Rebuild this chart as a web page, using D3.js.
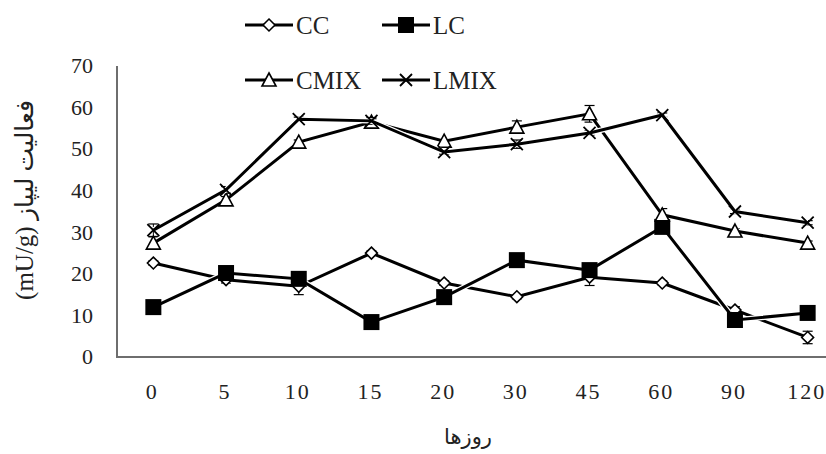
<!DOCTYPE html>
<html>
<head>
<meta charset="utf-8">
<script src="https://cdn.jsdelivr.net/npm/d3@7"></script>
<style>
  body { margin: 0; background: #fff; }
  svg { display: block; }
</style>
</head>
<body>
<div id="vis"></div>
<script>
const days = ["0", "5", "10", "15", "20", "30", "45", "60", "90", "120"];
const yTicks = [0, 10, 20, 30, 40, 50, 60, 70];

const cc   = [22.6, 18.6, 17.0, 25.0, 17.8, 14.5, 19.2, 17.8, 11.3, 4.7];
const lc   = [12.0, 20.2, 18.8, 8.4, 14.4, 23.3, 20.9, 31.3, 8.9, 10.6];
const cmix = [27.4, 37.8, 51.7, 56.5, 51.9, 55.3, 58.5, 34.2, 30.3, 27.4];
const lmix = [30.5, 40.2, 57.2, 56.8, 49.3, 51.2, 53.9, 58.2, 35.0, 32.3];

const ccErr   = [0.5, 0.8, 2.0, 0.5, 0.5, 0.5, 2.0, 0.5, 0.8, 1.5];
const lcErr   = [0.5, 0.5, 0.5, 0.5, 0.5, 0.5, 0.5, 0.5, 0.5, 0.5];
const cmixErr = [1.5, 0.8, 0.5, 0.8, 0.5, 1.5, 2.0, 1.5, 0.5, 0.5];
const lmixErr = [1.5, 0.8, 0.5, 0.8, 0.5, 1.0, 0.5, 0.5, 0.5, 0.5];

const series = [
    {name: "CC", values: cc, err: ccErr, marker: "diamond"},
    {name: "LC", values: lc, err: lcErr, marker: "square"},
    {name: "CMIX", values: cmix, err: cmixErr, marker: "triangle"},
    {name: "LMIX", values: lmix, err: lmixErr, marker: "cross"}
];

const W = 826, H = 454;
let margin = {top: 66, right: -18, bottom: 97, left: 117};

let svg = d3.select("#vis").append("svg")
    .attr("width", W)
    .attr("height", H);

let x = d3.scaleBand()
    .domain(days)
    .range([margin.left, W - margin.right]);

let y = d3.scaleLinear()
    .domain([0, 70])
    .range([H - margin.bottom, margin.top]);

const cx = d => x(d) + x.bandwidth() / 2;

////////// axes //////////

svg.append("line")
    .attr("x1", margin.left).attr("x2", margin.left)
    .attr("y1", y(70)).attr("y2", y(0))
    .attr("stroke", "#6e6e6e").attr("stroke-width", 2);

svg.append("line")
    .attr("x1", margin.left - 1).attr("x2", W)
    .attr("y1", y(0)).attr("y2", y(0))
    .attr("stroke", "#6e6e6e").attr("stroke-width", 2);

svg.append("g")
    .selectAll("text")
    .data(yTicks)
    .enter()
    .append("text")
    .attr("x", 93)
    .attr("y", d => y(d))
    .attr("dy", "0.33em")
    .attr("text-anchor", "end")
    .style("font-family", "'Liberation Serif', serif")
    .style("font-size", "22px")
    .attr("fill", "#222")
    .text(d => d);

svg.append("g")
    .selectAll("text")
    .data(days)
    .enter()
    .append("text")
    .attr("x", d => cx(d) - 1)
    .attr("y", 399)
    .attr("text-anchor", "middle")
    .style("font-family", "'Liberation Serif', serif")
    .style("font-size", "22px")
    .style("letter-spacing", "2px")
    .attr("fill", "#222")
    .text(d => d);

svg.append("text")
    .attr("x", 468)
    .attr("y", 444)
    .attr("text-anchor", "middle")
    .attr("direction", "rtl")
    .style("font-family", "'DejaVu Sans', sans-serif")
    .style("font-size", "21px")
    .attr("fill", "#222")
    .text("روزها");

svg.append("text")
    .attr("transform", "translate(33,200) rotate(-90)")
    .attr("text-anchor", "middle")
    .attr("direction", "rtl")
    .style("font-family", "'Liberation Serif', 'DejaVu Sans', serif")
    .style("font-size", "25px")
    .attr("fill", "#222")
    .text("فعالیت لیپاز (mU/g)");

////////// markers //////////

function drawMarker(g, type, px, py) {
    if (type === "diamond") {
        g.append("path")
            .attr("d", d3.symbol(d3.symbolDiamond2, 90)())
            .attr("transform", "translate(" + px + "," + py + ")")
            .attr("fill", "#fff").attr("stroke", "#000").attr("stroke-width", 1.6);
    } else if (type === "square") {
        g.append("rect")
            .attr("x", px - 8).attr("y", py - 8)
            .attr("width", 16).attr("height", 16)
            .attr("fill", "#000");
    } else if (type === "triangle") {
        g.append("path")
            .attr("d", "M0,-7L7,6L-7,6Z")
            .attr("transform", "translate(" + px + "," + py + ")")
            .attr("fill", "#fff").attr("stroke", "#000").attr("stroke-width", 1.6);
    } else {
        g.append("path")
            .attr("d", "M-6,-6L6,6M-6,6L6,-6")
            .attr("transform", "translate(" + px + "," + py + ")")
            .attr("stroke", "#000").attr("stroke-width", 1.8);
    }
}

////////// plot //////////

let line = d3.line()
    .x((d, i) => cx(days[i]))
    .y(d => y(d));

let plot = svg.append("g").attr("class", "plot");

series.forEach(s => {
    let g = plot.append("g");
    // error bars
    s.values.forEach((v, i) => {
        let px = cx(days[i]);
        g.append("line")
            .attr("x1", px).attr("x2", px)
            .attr("y1", y(v - s.err[i])).attr("y2", y(v + s.err[i]))
            .attr("stroke", "#000").attr("stroke-width", 1);
        [v - s.err[i], v + s.err[i]].forEach(e => {
            g.append("line")
                .attr("x1", px - 5).attr("x2", px + 5)
                .attr("y1", y(e)).attr("y2", y(e))
                .attr("stroke", "#000").attr("stroke-width", 1.2);
        });
    });
    g.append("path")
        .attr("d", line(s.values))
        .attr("fill", "none")
        .attr("stroke", "#fff")
        .attr("stroke-width", 5.5);
    g.append("path")
        .attr("d", line(s.values))
        .attr("fill", "none")
        .attr("stroke", "#000")
        .attr("stroke-width", 3);
    s.values.forEach((v, i) => drawMarker(g, s.marker, cx(days[i]), y(v)));
});

////////// legend //////////

const legendPos = [
    {lx: 245, ly: 25}, {lx: 382, ly: 25},
    {lx: 245, ly: 80}, {lx: 382, ly: 80}
];

let legend = svg.append("g").attr("class", "legend");
series.forEach((s, i) => {
    let p = legendPos[i];
    legend.append("line")
        .attr("x1", p.lx).attr("x2", p.lx + 48)
        .attr("y1", p.ly).attr("y2", p.ly)
        .attr("stroke", "#000").attr("stroke-width", 3);
    drawMarker(legend, s.marker, p.lx + 24, p.ly);
    legend.append("text")
        .attr("x", p.lx + 51)
        .attr("y", p.ly)
        .attr("dy", "0.34em")
        .style("font-family", "'Liberation Serif', serif")
        .style("font-size", "25px")
        .attr("fill", "#222")
        .text(s.name);
});
</script>
</body>
</html>
